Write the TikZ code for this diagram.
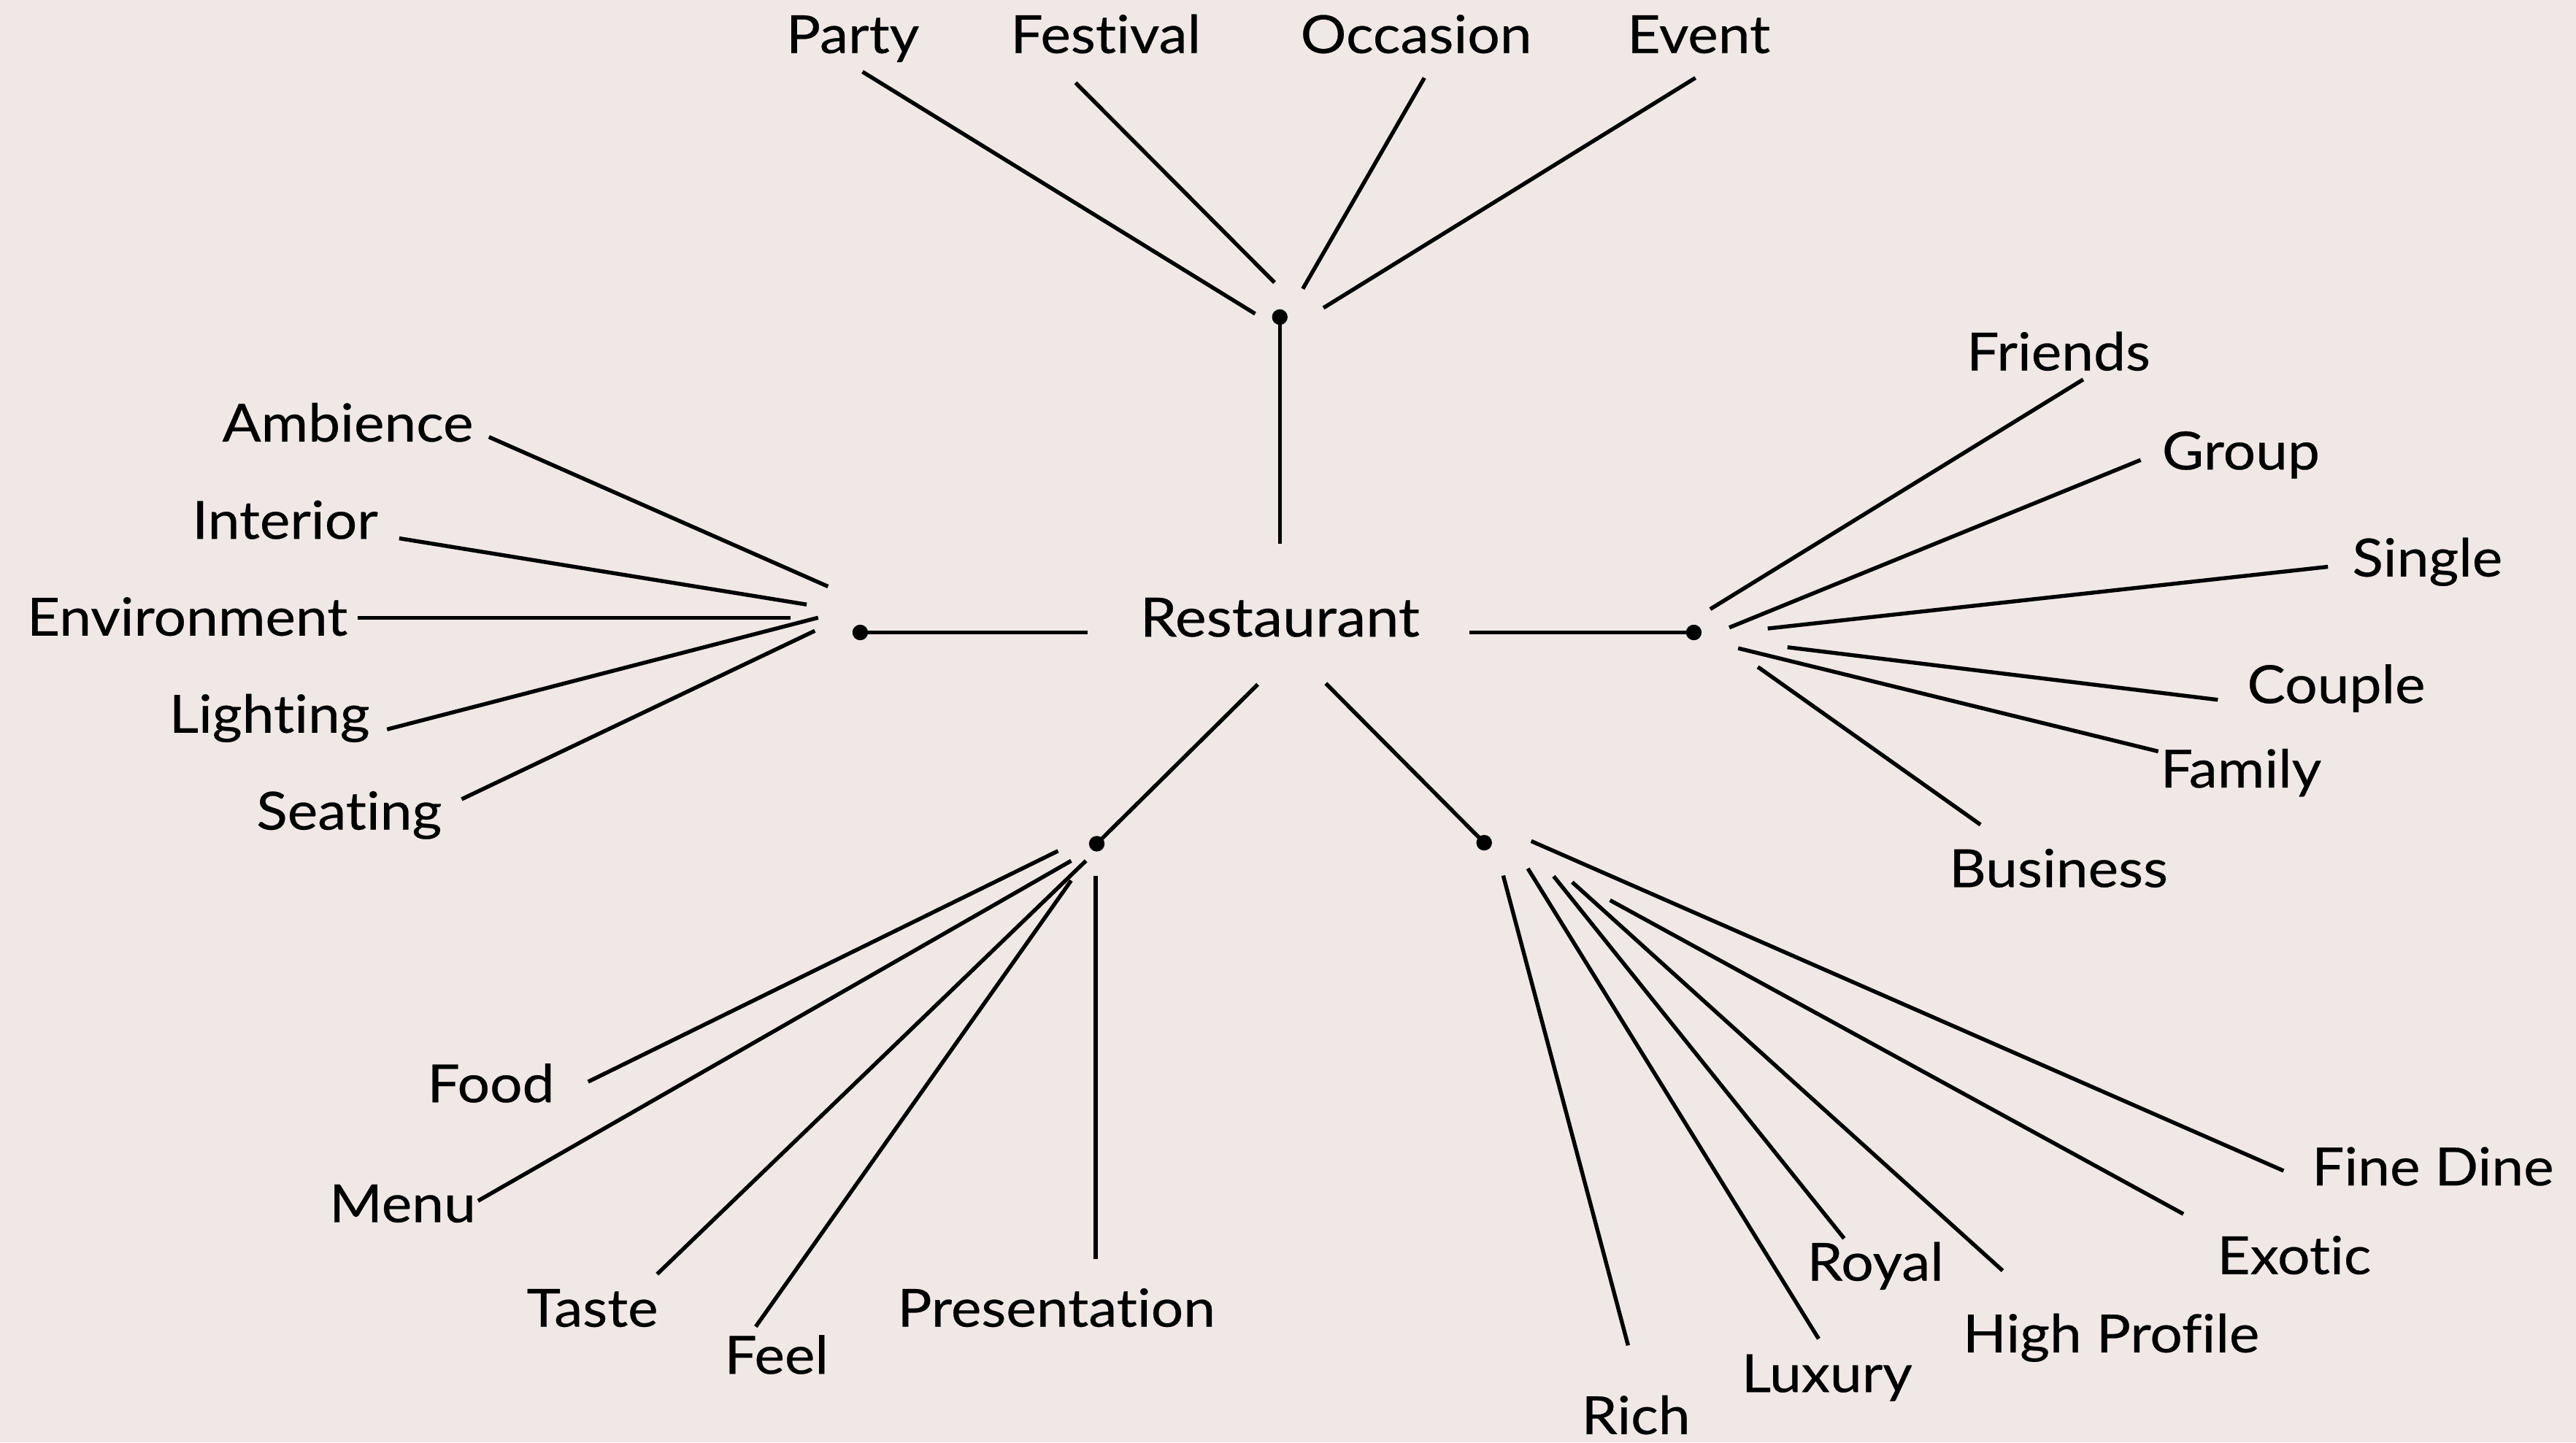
\documentclass[tikz,border=0pt]{standalone}
\usepackage{fontspec}
\setmainfont[Ligatures={NoCommon,NoRare,NoContextual},FakeStretch=1.09,FakeBold=0.35]{Lato}
\definecolor{bgc}{HTML}{EFE8E6}
\newcommand\myspoke[3]{\coordinate (#1-o) at (#2); \coordinate (#1-i) at (#3); \draw[spoke] (#1-o) -- (#1-i);}
\begin{document}
\begin{tikzpicture}[x=1pt,y=-1pt,
  spoke/.style={line width=2.4pt, line cap=butt, black},
  lbl/.style={anchor=base, inner sep=0pt, text=black, font=\fontsize{32}{36}\selectfont},
  hubdot/.style={circle, fill=black, inner sep=0pt, minimum size=9.5pt}]
\fill[bgc] (0,0) rectangle (1568,878);
\useasboundingbox (0,0) rectangle (1568,878);

% centre
\node[lbl, font=\fontsize{33}{37}\selectfont] (rest) at (779,387.5) {Restaurant};

% hubs
\node[hubdot] (htop) at (779,193) {};
\node[hubdot] (hleft) at (523.6,385) {};
\node[hubdot] (hright) at (1031,385) {};
\node[hubdot] (hbl) at (667.6,513.6) {};
\node[hubdot] (hbr) at (903.4,513) {};

% centre to hubs
\coordinate (c-top) at (779,331);
\coordinate (c-left) at (662,385);
\coordinate (c-right) at (894.5,385);
\coordinate (c-bl) at (765.6,416.6);
\coordinate (c-br) at (807,416);
\draw[spoke] (c-top) -- (htop.center);
\draw[spoke] (c-left) -- (hleft.center);
\draw[spoke] (c-right) -- (hright.center);
\draw[spoke] (c-bl) -- (hbl.center);
\draw[spoke] (c-br) -- (hbr.center);

% top labels
\node[lbl] (party) at (519,32.3) {Party};
\node[lbl] (festival) at (673,32.3) {Festival};
\node[lbl] (occasion) at (862,32.3) {Occasion};
\node[lbl] (event) at (1034,32.3) {Event};
\myspoke{party}{525,43.7}{764,191}
\myspoke{festival}{654.7,50.4}{775.8,172}
\myspoke{occasion}{867,47.4}{793,175.8}
\myspoke{event}{1032,47.4}{805.6,187.4}

% left labels
\node[lbl] (ambience) at (211.7,268.8) {Ambience};
\node[lbl] (interior) at (173.5,328) {Interior};
\node[lbl] (environment) at (114,386.9) {Environment};
\node[lbl] (lighting) at (164,446) {Lighting};
\node[lbl] (seating) at (212.5,505) {Seating};
\myspoke{ambience}{297.6,266}{504,357}
\myspoke{interior}{243,327.7}{491,368}
\myspoke{environment}{217.7,376}{481,376}
\myspoke{lighting}{235.6,444}{498,376}
\myspoke{seating}{281,486.5}{496,384}

% right labels
\node[lbl] (friends) at (1253,225.5) {Friends};
\node[lbl] (group) at (1364,285.8) {Group};
\node[lbl] (single) at (1477.5,350.9) {Single};
\node[lbl] (couple) at (1422,428) {Couple};
\node[lbl] (family) at (1364,479.4) {Family};
\node[lbl] (business) at (1253,540) {Business};
\myspoke{friends}{1268,231}{1041,370.8}
\myspoke{group}{1303,280}{1052.6,382}
\myspoke{single}{1417,345}{1076,382.6}
\myspoke{couple}{1350,426}{1088,394}
\myspoke{family}{1313.7,457.4}{1058,394.6}
\myspoke{business}{1205.5,502}{1070,406}

% bottom-left labels
\node[lbl] (food) at (298.8,671) {Food};
\node[lbl] (menu) at (245,744) {Menu};
\node[lbl] (taste) at (360.6,807.6) {Taste};
\node[lbl] (feel) at (472.6,836.3) {Feel};
\node[lbl] (presentation) at (643,807.6) {Presentation};
\myspoke{food}{358,658.5}{644,518}
\myspoke{menu}{291,731}{652,524}
\myspoke{taste}{400,775.6}{661,524}
\myspoke{feel}{460,807.6}{652,536}
\myspoke{presentation}{667,766.3}{667,533}

% bottom-right labels
\node[lbl] (finedine) at (1480.8,721.6) {Fine Dine};
\node[lbl] (exotic) at (1396.4,775.6) {Exotic};
\node[lbl] (highprofile) at (1285,823.2) {High Profile};
\node[lbl] (royal) at (1141.5,779.6) {Royal};
\node[lbl] (luxury) at (1112,847.4) {Luxury};
\node[lbl] (rich) at (995.7,873) {Rich};
\myspoke{finedine}{1390,712.7}{932,512}
\myspoke{exotic}{1329,739}{980,548}
\myspoke{highprofile}{1219,773.5}{957,537}
\myspoke{royal}{1122.5,753.9}{945.7,533.4}
\myspoke{luxury}{1107,815}{930,528.7}
\myspoke{rich}{991,819}{915,533}
\end{tikzpicture}
\end{document}
